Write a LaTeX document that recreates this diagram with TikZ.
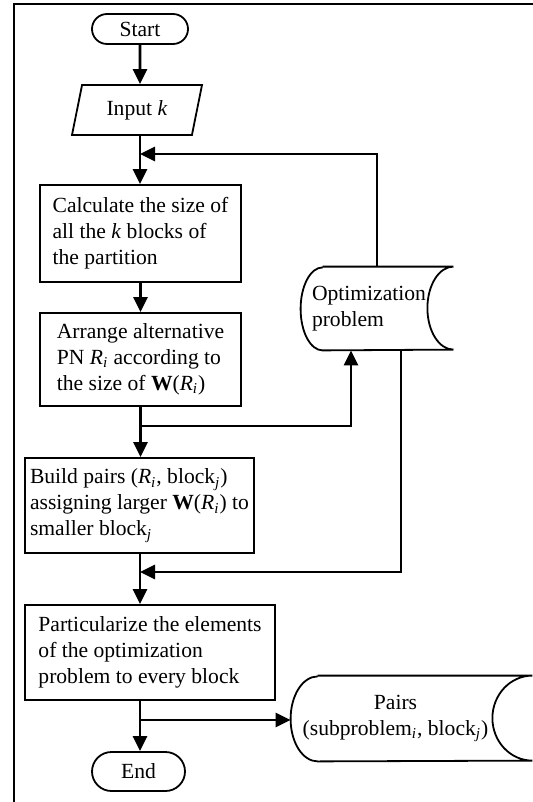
\documentclass[tikz,border=0pt]{standalone}
\usepackage{fontspec}
\setmainfont{Liberation Serif}
\usetikzlibrary{shapes}
\usetikzlibrary{positioning}
\usetikzlibrary{arrows.meta}
\newcommand{\Ri}{\textit{R}\textsubscript{\textit{i}}}
\newcommand{\blockj}{block\textsubscript{\textit{j}}}
\tikzset{
    termnode/.style = {rounded rectangle, draw=black, line width=0.9pt, minimum width=48pt, minimum height=15pt, inner sep=0pt},
    ionode/.style = {trapezium, trapezium left angle=73, trapezium right angle=107, trapezium stretches body, draw=black, line width=0.9pt, minimum height=25pt, minimum width=65pt},
    procnode/.style = {rectangle, draw=black, line width=0.9pt, align=left, inner xsep=2pt},
    storenode/.style = {rectangle, inner sep=0pt},
    storeline/.style = {line width=0.9pt, black},
    edgea/.style = {-{Triangle[length=7.5pt,width=7pt]}, line width=1.4pt, black},
    frameline/.style = {line width=1.35pt, black},
    every node/.style = {font=\fontsize{10.8pt}{13pt}\selectfont}
}
\begin{document}
\begin{tikzpicture}[x=0.5pt,y=-0.5pt]
\useasboundingbox (0,0) rectangle (533,802);
\draw[frameline] (14,802) -- (14,4) -- (533,4);

\node[termnode] at (140,29) (start) {Start};
\node[ionode] at (137,110) (input) {Input \textit{k}};
\node[procnode, minimum width=100.5pt, minimum height=48.5pt] at (140.5,233.5) (calc) {Calculate the size of\\ all the \textit{k} blocks of\\ the partition};
\node[procnode, minimum width=100.5pt, minimum height=46.5pt] at (140.5,359.5) (arrange) {Arrange alternative\\ PN \Ri{} according to\\ the size of \textbf{W}(\Ri)};
\node[procnode, minimum width=114.5pt, minimum height=47.5pt] at (139.5,505.5) (build) {Build pairs (\Ri, \blockj)\\ assigning larger \textbf{W}(\Ri) to\\ smaller \blockj};
\node[procnode, minimum width=125pt, minimum height=47.5pt] at (150,652.5) (part) {Particularize the elements\\ of the optimization\\ problem to every block};
\node[termnode, minimum width=46.5pt, minimum height=19.5pt] at (138.5,771.5) (end) {End};
\node[storenode, text width=65pt, inner xsep=5.5pt, minimum height=41.5pt, align=left] at (377,308.5) (opt) {Optimization\\ problem};
\node[storenode, minimum width=104.5pt, minimum height=42.5pt, align=center] at (395.5,718.5) (pairs) {Pairs\\ (subproblem\textsubscript{\textit{i}}, \blockj)};

% stored data outlines
\draw[storeline] ([xshift=11pt]opt.north west) -- (opt.north east)
    arc[start angle=90, end angle=270, x radius=13pt, y radius=20.75pt]
    -- ([xshift=11pt]opt.south west)
    arc[start angle=270, end angle=90, x radius=11pt, y radius=20.75pt];
\draw[storeline] ([xshift=13.5pt]pairs.north west) -- ([xshift=16pt]pairs.north east)
    arc[start angle=90, end angle=270, x radius=20pt, y radius=21.25pt]
    -- ([xshift=13.5pt]pairs.south west)
    arc[start angle=270, end angle=90, x radius=13.5pt, y radius=21.25pt];

\coordinate (loopin) at (140,154);
\coordinate (split1) at (140,426);
\coordinate (merge) at (140,572);
\coordinate (split2) at (140,720);

\draw[edgea] (start) -- (start |- input.north);
\draw[edgea] (start |- input.south) -- (start |- calc.north);
\draw[edgea] (opt.north) |- (loopin);
\draw[edgea] (calc) -- (arrange);
\draw[edgea] (arrange) -- (arrange.south |- build.north);
\draw[edgea] (split1) -| ([xshift=-13pt]opt.south);
\draw[edgea] ([xshift=12pt]opt.south) |- (merge);
\draw[edgea] (build.south -| merge) -- (merge |- part.north);
\draw[edgea] (part.south -| split2) -- (split2 |- end.north);
\draw[edgea] (split2) -- (split2 -| pairs.west);

\end{tikzpicture}
\end{document}
